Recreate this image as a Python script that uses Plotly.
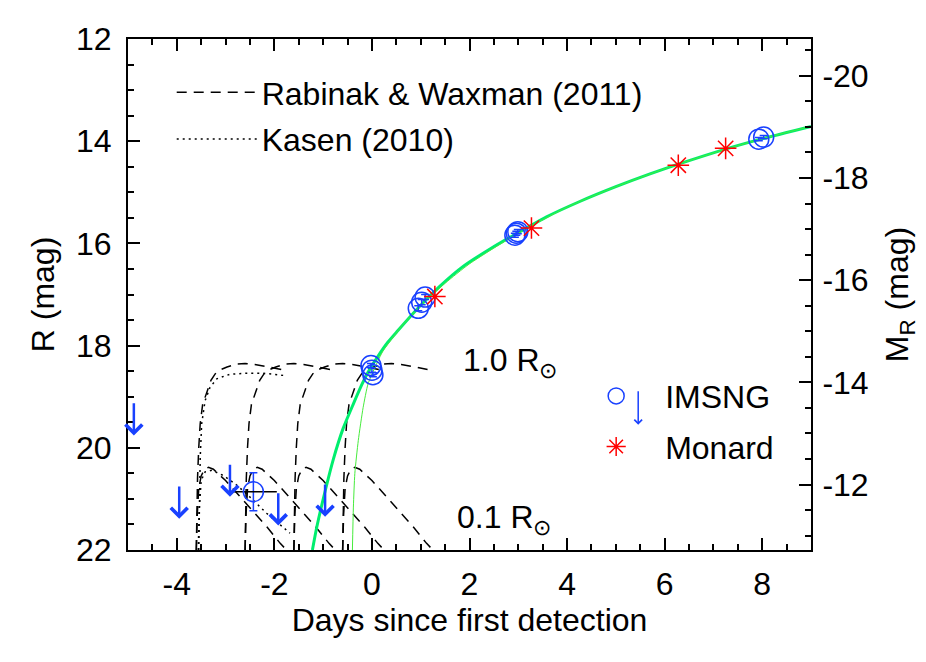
import plotly.graph_objects as go

# distance modulus linking R (left) and M_R (right)
DM = 32.72

# IMSNG detections (days since first detection, R mag)
imsng_day = [-2.43, -0.02, 0.0, 0.02, 0.95, 1.02, 1.09, 2.93, 2.96, 2.99, 7.93, 8.03]
imsng_mag = [20.86, 18.39, 18.48, 18.57, 17.27, 17.15, 17.05, 15.84, 15.80, 15.77, 13.96, 13.92]
imsng_err = [0.37, 0.04, 0.04, 0.04, 0.05, 0.05, 0.05, 0.04, 0.04, 0.04, 0.03, 0.03]
imsng_xerr = [0.48, 0, 0, 0, 0, 0, 0, 0, 0, 0, 0, 0]

# IMSNG upper limits (arrow starts at the limit)
ulim_day = [-4.88, -3.95, -2.91, -1.92, -0.96]
ulim_mag = [19.10, 20.73, 20.30, 20.86, 20.69]

# Monard detections
monard_day = [1.29, 3.27, 6.28, 7.25]
monard_mag = [17.04, 15.70, 14.47, 14.14]

# power-law fits (thick and thin green)
fit_day = [-1.22, -1.13, -0.96, -0.79, -0.59, -0.38, -0.21, -0.08, 0.13, 0.33, 0.51,
           0.98, 1.39, 1.87, 2.42, 2.96, 3.58, 4.26, 5.0, 5.7, 6.31, 7.3, 8.01, 9.0]
fit_mag = [22.0, 21.55, 20.85, 20.22, 19.62, 19.14, 18.77, 18.52, 18.2, 17.93, 17.73,
           17.23, 16.84, 16.45, 16.11, 15.81, 15.48, 15.18, 14.89, 14.64, 14.44, 14.14, 13.95, 13.71]
fit2_day = [-0.40, -0.38, -0.35, -0.28, -0.18, -0.08, 0.06, 0.23, 0.40, 0.60, 1.0, 1.5,
            2.0, 3.0, 4.0, 5.0, 6.0, 7.0, 8.0, 9.0]
fit2_mag = [22.0, 21.16, 20.5, 19.86, 19.21, 18.75, 18.43, 18.1, 17.88, 17.63, 17.22, 16.78,
            16.4, 15.8, 15.29, 14.89, 14.54, 14.23, 13.95, 13.71]

# Rabinak & Waxman (2011) models: explosion epochs, days after explosion, mag
rw_t0 = [-3.6, -2.6, -1.6, -0.6]
rw10_dt = [0, 0.01, 0.025, 0.05, 0.08, 0.13, 0.22, 0.30, 0.39, 0.50, 0.63, 0.83, 1.0, 1.2, 1.5, 1.8]
rw10_mag = [22.0, 21.2, 20.6, 20.0, 19.53, 19.15, 18.88, 18.68, 18.55, 18.47, 18.42, 18.36,
            18.35, 18.37, 18.42, 18.48]
rw01_dt = [0, 0.02, 0.05, 0.10, 0.17, 0.25, 0.35, 0.60, 0.90, 1.15, 1.45, 1.72, 1.85]
rw01_mag = [22.0, 21.3, 20.8, 20.55, 20.42, 20.38, 20.42, 20.64, 20.96, 21.22, 21.55, 21.87, 22.0]

# Kasen (2010) models
kasen10_day = [-3.55, -3.54, -3.52, -3.49, -3.42, -3.32, -3.18, -2.91, -2.57, -2.23, -1.75]
kasen10_mag = [22.0, 21.0, 20.2, 19.53, 19.08, 18.82, 18.65, 18.56, 18.54, 18.54, 18.59]
kasen01_day = [-3.56, -3.54, -3.50, -3.42, -3.28, -3.05, -2.81, -2.57, -2.16, -1.68]
kasen01_mag = [22.0, 21.2, 20.64, 20.47, 20.44, 20.54, 20.70, 20.90, 21.28, 21.67]

x_ticks = [-4, -2, 0, 2, 4, 6, 8]
r_ticks = [12, 14, 16, 18, 20, 22]
m_ticks = [-20, -18, -16, -14, -12]

BLUE = 'rgb(25,65,255)'
GREEN = 'rgb(0,238,110)'
GREEN2 = 'rgb(70,235,60)'
FONT = 'Liberation Sans, Arial, Helvetica, sans-serif'
ARROW_LEN = 0.66

fig = go.Figure()

for i, t0 in enumerate(rw_t0):
    fig.add_trace(go.Scatter(
        x=[t0 + d for d in rw10_dt], y=rw10_mag, mode='lines',
        line=dict(color='black', width=1.5, dash='10px,7px'),
        name='Rabinak & Waxman (2011)', legendgroup='rw', showlegend=(i == 0),
        legend='legend'))
    fig.add_trace(go.Scatter(
        x=[t0 + d for d in rw01_dt], y=rw01_mag, mode='lines',
        line=dict(color='black', width=1.5, dash='10px,7px'),
        legendgroup='rw', showlegend=False))

fig.add_trace(go.Scatter(
    x=kasen10_day, y=kasen10_mag, mode='lines',
    line=dict(color='black', width=1.5, dash='2px,4px'),
    name='Kasen (2010)', legendgroup='kasen', legend='legend'))
fig.add_trace(go.Scatter(
    x=kasen01_day, y=kasen01_mag, mode='lines',
    line=dict(color='black', width=1.5, dash='2px,4px'),
    legendgroup='kasen', showlegend=False))

fig.add_trace(go.Scatter(
    x=fit_day, y=fit_mag, mode='lines',
    line=dict(color=GREEN, width=3, shape='spline', smoothing=0.6), showlegend=False))
fig.add_trace(go.Scatter(
    x=fit2_day, y=fit2_mag, mode='lines',
    line=dict(color=GREEN2, width=1, shape='spline', smoothing=0.6), showlegend=False))

fig.add_trace(go.Scatter(
    x=imsng_day, y=imsng_mag, mode='markers', name='IMSNG', legend='legend2',
    legendgroup='imsng',
    marker=dict(symbol='circle-open', size=20, color=BLUE, line=dict(width=1.5)),
    error_y=dict(type='data', array=imsng_err, color=BLUE, thickness=1.5, width=4),
    error_x=dict(type='data', array=imsng_xerr, color='black', thickness=1.5, width=0)))
fig.add_trace(go.Scatter(
    x=monard_day, y=monard_mag, mode='markers', name='Monard', legend='legend2',
    legendgroup='monard',
    marker=dict(symbol='asterisk-open', size=18, color='red',
                line=dict(color='red', width=1.5))))

# carrier for the absolute-magnitude axis
fig.add_trace(go.Scatter(x=[None], y=[None], yaxis='y2', showlegend=False))

for d, m in zip(ulim_day, ulim_mag):
    fig.add_annotation(x=d, y=m + ARROW_LEN, ax=d, ay=m, xref='x', yref='y',
                       axref='x', ayref='y', text='', showarrow=True, arrowhead=4,
                       arrowsize=1.3, arrowwidth=2.5, arrowcolor=BLUE, standoff=0)

# arrow in the IMSNG legend entry
fig.add_annotation(x=0.747, y=0.245, xref='paper', yref='paper', ax=0, ay=-35,
                   text='', showarrow=True, arrowhead=4, arrowsize=1.0,
                   arrowwidth=1.5, arrowcolor=BLUE, standoff=0)

fig.add_annotation(x=1.82, y=18.34, xref='x', yref='y', xanchor='left', showarrow=False,
                   text='1.0 R<sub>⊙</sub>', font=dict(size=32))
fig.add_annotation(x=1.70, y=21.40, xref='x', yref='y', xanchor='left', showarrow=False,
                   text='0.1 R<sub>⊙</sub>', font=dict(size=32))

axis_common = dict(showline=True, linewidth=2, linecolor='black', ticks='inside',
                   ticklen=12, tickwidth=1.5, tickcolor='black', showgrid=False,
                   zeroline=False)

fig.update_layout(
    width=926, height=662,
    # the page adds an 8px body margin, so the plot area is offset by that much
    margin=dict(l=120, r=123, t=31, b=120),
    paper_bgcolor='white', plot_bgcolor='white',
    font=dict(family=FONT, size=32, color='black'),
    xaxis=dict(range=[-5, 9], tickvals=x_ticks, ticktext=[str(v) for v in x_ticks],
               mirror='ticks', ticklabelstandoff=5,
               minor=dict(ticks='inside', ticklen=6, dtick=0.5, tick0=0, tickwidth=1.5),
               title=dict(text='Days since first detection', standoff=0,
                          font=dict(size=32)), **axis_common),
    yaxis=dict(range=[22, 12], tickvals=r_ticks, ticktext=[str(v) for v in r_ticks],
               ticklabelstandoff=8,
               minor=dict(ticks='inside', ticklen=6, dtick=0.5, tick0=0, tickwidth=1.5),
               title=dict(text='R (mag)', standoff=12, font=dict(size=32)), **axis_common),
    yaxis2=dict(overlaying='y', side='right', range=[22 - DM, 12 - DM],
                tickvals=m_ticks, ticktext=[str(v) for v in m_ticks], ticklabelstandoff=3,
                minor=dict(ticks='inside', ticklen=6, dtick=0.5, tick0=0, tickwidth=1.5),
                title=dict(text='M<sub>R</sub> (mag)', standoff=18, font=dict(size=32)),
                **axis_common),
    legend=dict(x=0.064, y=0.949, xanchor='left', yanchor='top', bgcolor='rgba(0,0,0,0)',
                itemwidth=80, tracegroupgap=2, font=dict(size=32)),
    legend2=dict(x=0.643, y=0.355, xanchor='left', yanchor='top', bgcolor='rgba(0,0,0,0)',
                 itemwidth=88, tracegroupgap=6, font=dict(size=32)),
)

fig.write_html("out.html")
